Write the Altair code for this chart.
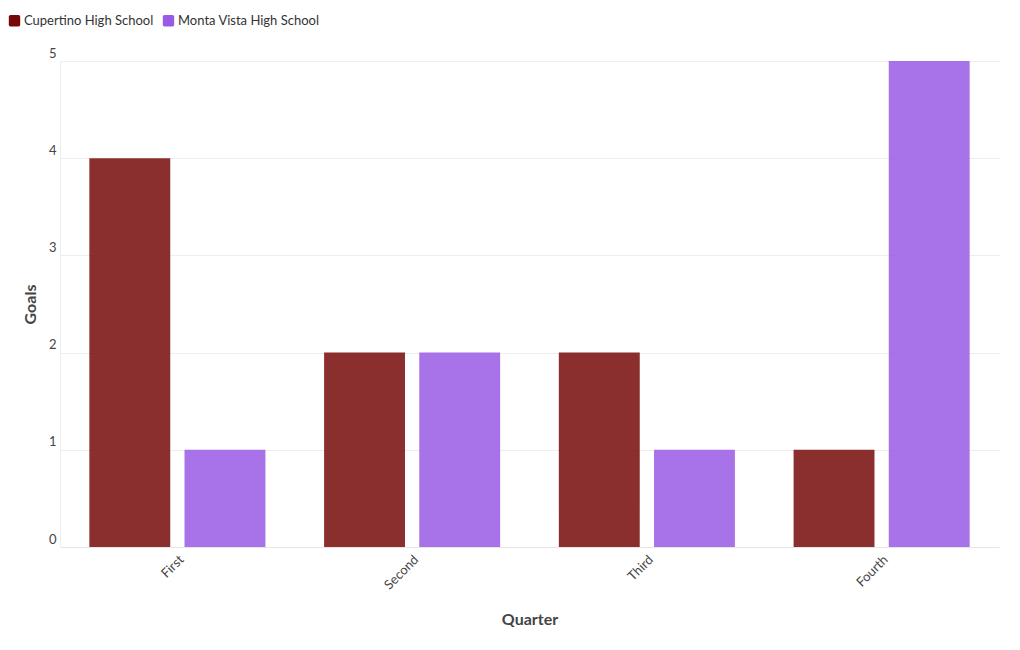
import altair as alt
import pandas as pd

quarters = ["First", "Second", "Third", "Fourth"]
cupertino = [4, 2, 2, 1]
monta_vista = [1, 2, 1, 5]
teams = ["Cupertino High School", "Monta Vista High School"]
colors = ["#770909", "#995be4"]

rows = []
for q, c, m in zip(quarters, cupertino, monta_vista):
    rows.append({"Quarter": q, "Team": teams[0], "Goals": c})
    rows.append({"Quarter": q, "Team": teams[1], "Goals": m})
df = pd.DataFrame(rows)

font = "Lato"
rounded = "M-0.7,-1 H0.7 Q1,-1 1,-0.7 V0.7 Q1,1 0.7,1 H-0.7 Q-1,1 -1,0.7 V-0.7 Q-1,-1 -0.7,-1 Z"

chart = alt.Chart(df).mark_bar(opacity=0.85).encode(
    x=alt.X("Quarter:N", sort=quarters,
            scale=alt.Scale(paddingInner=0.25, paddingOuter=0.125),
            axis=alt.Axis(title="Quarter", labelAngle=-45, labelAlign="right",
                          labelBaseline="top", labelPadding=6, ticks=False,
                          domainColor="#e6e6e6", labelColor="#444",
                          labelFontSize=13, titleFontSize=16, titleColor="#444",
                          titlePadding=20, grid=False)),
    xOffset=alt.XOffset("Team:N", sort=teams,
                        scale=alt.Scale(paddingInner=0.15, paddingOuter=0)),
    y=alt.Y("Goals:Q", scale=alt.Scale(domain=[0, 5]),
            axis=alt.Axis(title="Goals", tickCount=5, ticks=False, domain=True,
                          domainColor="#eeeeee",
                          labelBaseline="bottom", labelAlign="right",
                          labelPadding=4, labelOffset=-1, labelColor="#444",
                          labelFontSize=13, titleFontSize=16, titleColor="#444",
                          titlePadding=10, gridColor="#eeeeee")),
    color=alt.Color("Team:N", sort=teams,
                    scale=alt.Scale(domain=teams, range=colors),
                    legend=alt.Legend(title=None, orient="none", direction="horizontal",
                                      legendX=-52, legendY=-47, symbolType=rounded,
                                      symbolSize=130, symbolOpacity=1,
                                      symbolStrokeWidth=0, labelFontSize=13,
                                      labelColor="#333", columnPadding=8,
                                      labelOffset=3)),
).properties(
    width=939, height=486,
    autosize=alt.AutoSizeParams(type="none"),
    padding={"left": 60, "top": 61, "right": 21, "bottom": 103},
).configure(font=font).configure_view(stroke="transparent", strokeWidth=0)

chart.save("out.html", embed_options={"renderer": "svg", "actions": False})
